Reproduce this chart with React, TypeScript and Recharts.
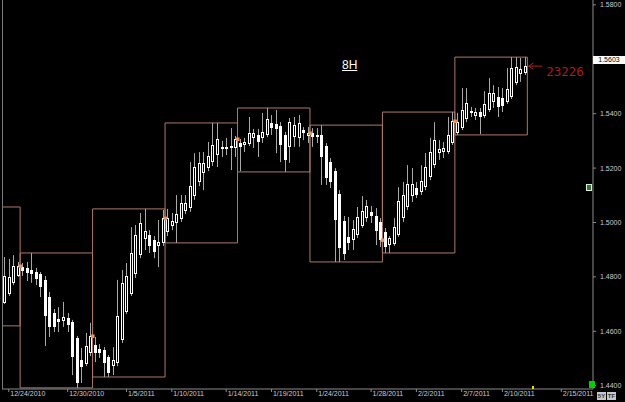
import { ComposedChart, Bar, Scatter, XAxis, YAxis, ReferenceArea, ReferenceDot } from "recharts";

const FONT = "'Liberation Sans', Arial, sans-serif";
const WICK = "#a8a8a8";
const BOX = "#ad786a";
const ORANGE = "#f0915a";
const AXIS = "#8c8c8c";

// 8H EUR/USD candles, 12/24/2010 .. 2/18/2011
const opens = [
  1.4704, 1.4737, 1.4778, 1.4803,
  1.4836, 1.4833, 1.4825, 1.4818, 1.4811, 1.4789, 1.4726, 1.4667, 1.4645, 1.4638, 1.4649, 1.4634, 1.4575, 1.4494, 1.4480, 1.4520,
  1.4550, 1.4535, 1.4531, 1.4505, 1.4472, 1.4483, 1.4568, 1.4671, 1.4737, 1.4811, 1.4880, 1.4939, 1.4954, 1.4936, 1.4914, 1.4925,
  1.4965, 1.4987, 1.4998, 1.5013, 1.5042, 1.5053, 1.5097, 1.5149, 1.5182, 1.5200, 1.5222, 1.5248, 1.5278, 1.5270, 1.5274, 1.5274,
  1.5292, 1.5285, 1.5289, 1.5311, 1.5322, 1.5311, 1.5322, 1.5366, 1.5362, 1.5355, 1.5322, 1.5278, 1.5314, 1.5311, 1.5340, 1.5318,
  1.5329, 1.5322, 1.5322, 1.5281, 1.5222, 1.5189, 1.5105, 1.5005, 1.4947, 1.4936, 1.4954, 1.4987, 1.5016, 1.5039, 1.5024, 1.5002,
  1.4965, 1.4917, 1.4921, 1.4954, 1.5016, 1.5057, 1.5097, 1.5127, 1.5112, 1.5130, 1.5167, 1.5211, 1.5255, 1.5259, 1.5259, 1.5292,
  1.5329, 1.5347, 1.5380, 1.5410, 1.5391, 1.5406, 1.5391, 1.5414, 1.5443, 1.5461, 1.5458, 1.5443, 1.5461, 1.5513, 1.5546, 1.5550,
];
const highs = [
  1.4873, 1.4866, 1.4880, 1.4855,
  1.4851, 1.4855, 1.4888, 1.4833, 1.4818, 1.4803, 1.4745, 1.4682, 1.4689, 1.4708, 1.4667, 1.4642, 1.4583, 1.4539, 1.4594, 1.4631,
  1.4579, 1.4553, 1.4542, 1.4513, 1.4542, 1.4789, 1.4825, 1.4851, 1.4983, 1.4991, 1.5035, 1.5050, 1.4972, 1.4950, 1.5009, 1.5046,
  1.5050, 1.5035, 1.5101, 1.5101, 1.5101, 1.5222, 1.5255, 1.5259, 1.5259, 1.5296, 1.5366, 1.5366, 1.5300, 1.5311, 1.5347, 1.5318,
  1.5307, 1.5311, 1.5388, 1.5344, 1.5344, 1.5403, 1.5421, 1.5395, 1.5414, 1.5369, 1.5333, 1.5384, 1.5388, 1.5395, 1.5351, 1.5351,
  1.5347, 1.5347, 1.5358, 1.5292, 1.5237, 1.5200, 1.5119, 1.5024, 1.5020, 1.5009, 1.5057, 1.5097, 1.5083, 1.5061, 1.5053, 1.5016,
  1.4980, 1.4950, 1.5016, 1.5130, 1.5149, 1.5211, 1.5200, 1.5149, 1.5211, 1.5255, 1.5311, 1.5369, 1.5303, 1.5296, 1.5388, 1.5406,
  1.5403, 1.5494, 1.5494, 1.5425, 1.5421, 1.5421, 1.5483, 1.5531, 1.5505, 1.5498, 1.5494, 1.5568, 1.5608, 1.5608, 1.5605, 1.5608,
];
const lows = [
  1.4700, 1.4730, 1.4770, 1.4800,
  1.4803, 1.4785, 1.4778, 1.4770, 1.4726, 1.4546, 1.4579, 1.4597, 1.4597, 1.4616, 1.4597, 1.4439, 1.4392, 1.4410, 1.4472, 1.4509,
  1.4487, 1.4502, 1.4432, 1.4432, 1.4439, 1.4472, 1.4557, 1.4664, 1.4730, 1.4796, 1.4869, 1.4899, 1.4888, 1.4869, 1.4836, 1.4914,
  1.4950, 1.4972, 1.4925, 1.5002, 1.5031, 1.5039, 1.5083, 1.5134, 1.5119, 1.5189, 1.5208, 1.5204, 1.5241, 1.5248, 1.5193, 1.5241,
  1.5189, 1.5259, 1.5281, 1.5274, 1.5241, 1.5292, 1.5314, 1.5322, 1.5255, 1.5222, 1.5186, 1.5219, 1.5278, 1.5278, 1.5303, 1.5292,
  1.5278, 1.5292, 1.5138, 1.5138, 1.5127, 1.4855, 1.4855, 1.4862, 1.4899, 1.4899, 1.4943, 1.4980, 1.5002, 1.4998, 1.4917, 1.4910,
  1.4888, 1.4888, 1.4914, 1.4947, 1.5002, 1.5046, 1.5075, 1.5090, 1.5101, 1.5119, 1.5156, 1.5200, 1.5230, 1.5237, 1.5252, 1.5285,
  1.5322, 1.5340, 1.5369, 1.5388, 1.5377, 1.5325, 1.5384, 1.5406, 1.5421, 1.5388, 1.5406, 1.5436, 1.5454, 1.5505, 1.5517, 1.5542,
];
const closes = [
  1.4803, 1.4800, 1.4840, 1.4840,
  1.4822, 1.4814, 1.4811, 1.4792, 1.4763, 1.4656, 1.4616, 1.4616, 1.4634, 1.4653, 1.4623, 1.4505, 1.4410, 1.4469, 1.4546, 1.4583,
  1.4520, 1.4520, 1.4483, 1.4447, 1.4494, 1.4656, 1.4778, 1.4803, 1.4888, 1.4954, 1.4998, 1.4969, 1.4914, 1.4891, 1.4928, 1.5016,
  1.5016, 1.5005, 1.5031, 1.5072, 1.5072, 1.5134, 1.5204, 1.5219, 1.5219, 1.5244, 1.5285, 1.5307, 1.5270, 1.5278, 1.5281, 1.5307,
  1.5278, 1.5296, 1.5329, 1.5329, 1.5296, 1.5333, 1.5380, 1.5347, 1.5344, 1.5285, 1.5230, 1.5369, 1.5358, 1.5366, 1.5329, 1.5329,
  1.5314, 1.5314, 1.5241, 1.5164, 1.5149, 1.5009, 1.4906, 1.4884, 1.4925, 1.4976, 1.5020, 1.5042, 1.5061, 1.5024, 1.4969, 1.4936,
  1.4910, 1.4943, 1.4983, 1.5079, 1.5101, 1.5141, 1.5141, 1.5101, 1.5153, 1.5204, 1.5259, 1.5303, 1.5270, 1.5274, 1.5322, 1.5373,
  1.5369, 1.5414, 1.5439, 1.5403, 1.5406, 1.5388, 1.5436, 1.5476, 1.5476, 1.5425, 1.5428, 1.5491, 1.5568, 1.5572, 1.5564, 1.5575,
];

// first candle index of each week (the week at the left edge opened off-screen)
const weekStarts = [4, 20, 36, 52, 68, 84, 100];
const firstWeekStart = -12;
const firstWeekHigh = 1.5057;
const firstWeekLow = 1.462;

const yTicks = [1.44, 1.46, 1.48, 1.5, 1.52, 1.54, 1.58];
const xTickIdx = [1, 14, 27, 37, 49, 59, 69, 81, 91, 101, 110, 123];
const xTickLabels = [
  "12/24/2010", "12/30/2010", "1/5/2011", "1/10/2011", "1/14/2011", "1/19/2011",
  "1/24/2011", "1/28/2011", "2/2/2011", "2/7/2011", "2/10/2011", "2/15/2011",
];
const lastPrice = 1.5603;
const counter = "23226";
const timeframe = "8H";

const n = opens.length;
const candles = opens.map((o, i) => ({
  i,
  o,
  h: highs[i],
  l: lows[i],
  c: closes[i],
  range: [lows[i], highs[i]],
}));

const weeks = [
  { from: firstWeekStart, to: weekStarts[0] - 1, high: firstWeekHigh, low: firstWeekLow },
  ...weekStarts.map((s, k) => {
    const to = k + 1 < weekStarts.length ? weekStarts[k + 1] - 1 : n - 1;
    return {
      from: s,
      to,
      high: Math.max(...highs.slice(s, to + 1)),
      low: Math.min(...lows.slice(s, to + 1)),
    };
  }),
];

// weekly open marker sits on the box edge at the prior close
const weekOpens = weekStarts.map((s) => ({ i: s - 0.5, v: closes[s - 1] }));

function Candle(props: any) {
  const { x, y, width, height, payload } = props;
  if (!payload || x == null) return null;
  const { o, h, l, c } = payload;
  const top = Math.min(y, y + height);
  const span = Math.abs(height);
  const py = (v: number) => (h === l ? top : top + ((h - v) / (h - l)) * span);
  const r = Math.round(x + width / 2);
  const bTop = Math.round(py(Math.max(o, c)));
  const bBot = Math.max(Math.round(py(Math.min(o, c))), bTop + 1);
  const up = c >= o;
  return (
    <g>
      <line x1={r + 0.5} x2={r + 0.5} y1={py(h)} y2={py(l)} stroke={WICK} strokeWidth={1} />
      {up ? (
        <rect x={r - 0.5} y={bTop + 0.5} width={2} height={Math.max(bBot - bTop - 1, 0.5)} fill="#000" stroke="#fff" strokeWidth={1} />
      ) : (
        <rect x={r - 1} y={bTop} width={3} height={bBot - bTop} fill="#fff" />
      )}
    </g>
  );
}

function PriceTick({ x, y, payload }: any) {
  return (
    <text x={x} y={y} dy={2.5} fontSize={7} fill="#cccccc" fontFamily={FONT} textAnchor="start">
      {Number(payload.value).toFixed(4)}
    </text>
  );
}

function DateTick({ x, y, payload }: any) {
  const k = xTickIdx.indexOf(payload.value);
  return (
    <text x={x + 1.5} y={y} dy={3} fontSize={7} fill="#cccccc" fontFamily={FONT} textAnchor="start">
      {k >= 0 ? xTickLabels[k] : ""}
    </text>
  );
}

const WeekOpen = ({ cx, cy }: any) => <rect x={cx - 1.5} y={cy - 1.5} width={3.5} height={3.5} fill={ORANGE} />;

const PriceTag = ({ cx, cy }: any) => (
  <g>
    <rect x={cx} y={cy - 2.5} width={32} height={8} fill="#fff" />
    <text x={cx + 16} y={cy + 4} textAnchor="middle" fontSize={7} fill="#000" fontFamily={FONT}>
      {lastPrice.toFixed(4)}
    </text>
  </g>
);

const Counter = ({ cx, cy }: any) => (
  <g>
    <line x1={cx} y1={cy} x2={cx + 14} y2={cy} stroke="#b02020" />
    <polyline points={`${cx + 5},${cy - 3} ${cx + 0.5},${cy} ${cx + 5},${cy + 3}`} fill="none" stroke="#b02020" />
    <text x={cx + 18} y={cy + 10} fontSize={12.5} fill="#a81c1c" fontFamily="'DejaVu Sans Mono', monospace">
      {counter}
    </text>
  </g>
);

export default function App() {
  return (
    <div style={{ position: "fixed", left: 0, top: 0, width: 625, height: 402, background: "#000", overflow: "hidden" }}>
      <ComposedChart width={625} height={402} data={candles} margin={{ top: 0, right: 0, left: 2, bottom: 0 }}>
        <XAxis
          type="number"
          dataKey="i"
          domain={[-0.5, 130]}
          allowDataOverflow
          ticks={xTickIdx}
          interval={0}
          height={13}
          tickSize={3}
          tickMargin={1}
          axisLine={{ stroke: AXIS }}
          tickLine={{ stroke: AXIS }}
          tick={<DateTick />}
        />
        <YAxis
          orientation="right"
          domain={[1.43879, 1.5818]}
          allowDataOverflow
          ticks={yTicks}
          interval={0}
          width={32}
          tickSize={3}
          tickMargin={4}
          axisLine={{ stroke: AXIS }}
          tickLine={{ stroke: AXIS }}
          tick={<PriceTick />}
        />
        {weeks.map((w) => (
          <ReferenceArea
            key={w.from}
            x1={w.from - 0.5}
            x2={w.to + 0.5}
            y1={w.low}
            y2={w.high}
            fill="none"
            stroke={BOX}
            strokeWidth={1}
            ifOverflow="hidden"
          />
        ))}
        <Bar dataKey="range" barSize={3} shape={<Candle />} isAnimationActive={false} />
        <Scatter data={weekOpens} dataKey="v" shape={<WeekOpen />} isAnimationActive={false} />
        <ReferenceDot x={130} y={lastPrice} shape={<PriceTag />} />
        <ReferenceDot x={n - 0.3} y={closes[n - 1]} shape={<Counter />} />
      </ComposedChart>
      <div style={{ position: "absolute", left: 2, top: 0, width: 1, height: 389, background: "#7a7a7a" }} />
      <div
        style={{
          position: "absolute",
          left: 342,
          top: 59,
          color: "#fff",
          fontFamily: FONT,
          fontSize: 12,
          lineHeight: "12px",
          textDecoration: "underline",
        }}
      >
        {timeframe}
      </div>
      <div style={{ position: "absolute", left: 586, top: 184, width: 4, height: 5, border: "1px solid #d8f0d8", background: "#3c6e3c" }} />
      <div style={{ position: "absolute", left: 589, top: 381, width: 6, height: 7, background: "#00d000" }} />
      <div style={{ position: "absolute", left: 532, top: 386, width: 2, height: 3, background: "#e8e000" }} />
      {["5Y", "TF"].map((t, k) => (
        <div
          key={t}
          style={{
            position: "absolute",
            left: 597 + k * 10,
            top: 392,
            width: 9,
            height: 8,
            background: "#c8c8c8",
            color: "#333",
            fontFamily: FONT,
            fontSize: 6,
            fontWeight: "bold",
            lineHeight: "8px",
            textAlign: "center",
          }}
        >
          {t}
        </div>
      ))}
    </div>
  );
}
